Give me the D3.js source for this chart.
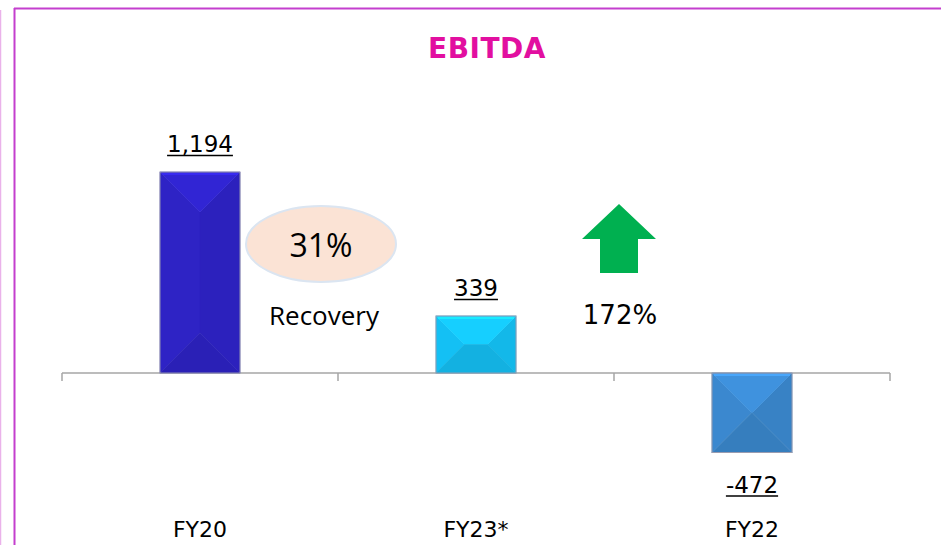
<!DOCTYPE html>
<html>
<head>
<meta charset="utf-8">
<script src="https://cdn.jsdelivr.net/npm/d3@7"></script>
<style>
  body { margin: 0; background: #fff; }
  svg { display: block; }
</style>
</head>
<body>
<svg width="941" height="545"></svg>
<script>
var categories = ["FY20", "FY23*", "FY22"];
var values = [1194, 339, -472];
var barColors = ["#2d22c2", "#14bdf0", "#3a86cb"];

var svg = d3.select("svg");
var fmt = function(v){ return d3.format(",")(v).replace("\u2212", "-"); };

// frame lines
svg.append("line").attr("x1", 0.5).attr("y1", 10).attr("x2", 0.5).attr("y2", 545)
    .attr("stroke", "#eab2ea").attr("stroke-width", 1.5);
svg.append("line").attr("x1", 14.5).attr("y1", 8).attr("x2", 14.5).attr("y2", 545)
    .attr("stroke", "#c43fce").attr("stroke-width", 2);
svg.append("line").attr("x1", 14).attr("y1", 8.5).attr("x2", 941).attr("y2", 8.5)
    .attr("stroke", "#c43fce").attr("stroke-width", 2);

svg.append("text")
    .attr("x", 487).attr("y", 58)
    .attr("text-anchor", "middle")
    .attr("font-family", "DejaVu Sans")
    .attr("font-weight", "bold")
    .attr("font-size", "28px")
    .attr("letter-spacing", "0.5px")
    .attr("fill", "#e20fa0")
    .text("EBITDA");

var x = d3.scaleBand().domain(categories).range([62, 890]).paddingInner(0).paddingOuter(0);
var y = d3.scaleLinear().domain([-472, 1194]).range([452.5, 172]);
var barW = x.bandwidth() * 0.29;
var y0 = y(0);

// axis line + ticks at category boundaries
var edges = categories.map(function(c){ return x(c); }).concat([x.range()[1]]);
svg.append("line").attr("x1", 62).attr("x2", 890).attr("y1", y0).attr("y2", y0)
    .attr("stroke", "#a6a6a6").attr("stroke-width", 1.5);
edges.forEach(function(e){
    svg.append("line").attr("x1", e).attr("x2", e).attr("y1", y0).attr("y2", y0 + 8)
        .attr("stroke", "#a6a6a6").attr("stroke-width", 1.5);
});

function bevel(g, bx, by, w, h, col){
    var c = d3.color(col);
    var x2 = bx + w, y2 = by + h;
    var top, bottom, left, right;
    if(h >= w){
        var d = w / 2, cx = bx + d;
        top = [[bx,by],[x2,by],[cx,by+d]];
        bottom = [[bx,y2],[x2,y2],[cx,y2-d]];
        left = [[bx,by],[cx,by+d],[cx,y2-d],[bx,y2]];
        right = [[x2,by],[cx,by+d],[cx,y2-d],[x2,y2]];
    } else {
        var d = h / 2, cy = by + d;
        top = [[bx,by],[x2,by],[x2-d,cy],[bx+d,cy]];
        bottom = [[bx,y2],[x2,y2],[x2-d,cy],[bx+d,cy]];
        left = [[bx,by],[bx+d,cy],[bx,y2]];
        right = [[x2,by],[x2-d,cy],[x2,y2]];
    }
    var faces = [
        [left, c.brighter(0.05)],
        [right, c.darker(0.08)],
        [top, c.brighter(0.25)],
        [bottom, c.darker(0.18)]
    ];
    faces.forEach(function(f){
        g.append("polygon")
            .attr("points", f[0].map(function(p){ return p.join(","); }).join(" "))
            .attr("fill", f[1].formatHex())
            .attr("stroke", f[1].formatHex())
            .attr("stroke-width", 0.5);
    });
    // thin inner highlight along the top edge
    g.append("line").attr("x1", bx + 2).attr("x2", x2 - 2).attr("y1", by + 2).attr("y2", by + 2)
        .attr("stroke", c.brighter(0.6).formatHex()).attr("stroke-width", 2);
    g.append("rect").attr("x", bx).attr("y", by).attr("width", w).attr("height", h)
        .attr("fill", "none").attr("stroke", "#9a9cb0").attr("stroke-width", 1);
}

categories.forEach(function(cat, i){
    var v = values[i];
    var bx = x(cat) + (x.bandwidth() - barW) / 2;
    var top = Math.min(y(v), y0);
    var h = Math.abs(y(v) - y0);
    var g = svg.append("g").attr("class", "bar");
    bevel(g, bx, top, barW, h, barColors[i]);

    var cx = x(cat) + x.bandwidth() / 2;
    var ly = v >= 0 ? y(v) - 20 : y(v) + 40;
    var t = svg.append("text")
        .attr("x", cx).attr("y", ly)
        .attr("text-anchor", "middle")
        .attr("font-family", "DejaVu Sans")
        .attr("font-size", "23px")
        .attr("fill", "#000")
        .text(fmt(v));
    var tw = t.node().getComputedTextLength();
    svg.append("line").attr("x1", cx - tw / 2).attr("x2", cx + tw / 2)
        .attr("y1", ly + 3.5).attr("y2", ly + 3.5)
        .attr("stroke", "#000").attr("stroke-width", 1.5);

    svg.append("text")
        .attr("x", cx).attr("y", 537)
        .attr("text-anchor", "middle")
        .attr("font-family", "DejaVu Sans")
        .attr("font-size", "22px")
        .attr("fill", "#000")
        .text(cat);
});

// annotations
svg.append("ellipse").attr("cx", 321).attr("cy", 244).attr("rx", 75).attr("ry", 38)
    .attr("fill", "#fbe3d5").attr("stroke", "#dbe5f1").attr("stroke-width", 2);
svg.append("text").attr("x", 321).attr("y", 257).attr("text-anchor", "middle")
    .attr("font-family", "Open Sans").attr("font-size", "32px").attr("fill", "#000")
    .text("31%");
svg.append("text").attr("x", 324).attr("y", 325).attr("text-anchor", "middle")
    .attr("font-family", "Open Sans").attr("font-size", "26px").attr("fill", "#000")
    .text("Recovery");

svg.append("polygon")
    .attr("points", "619,204 656,239 638,239 638,273 600,273 600,239 582,239")
    .attr("fill", "#00b050");
svg.append("text").attr("x", 620).attr("y", 324).attr("text-anchor", "middle")
    .attr("font-family", "DejaVu Sans").attr("font-size", "26px").attr("fill", "#000")
    .text("172%");
</script>
</body>
</html>
